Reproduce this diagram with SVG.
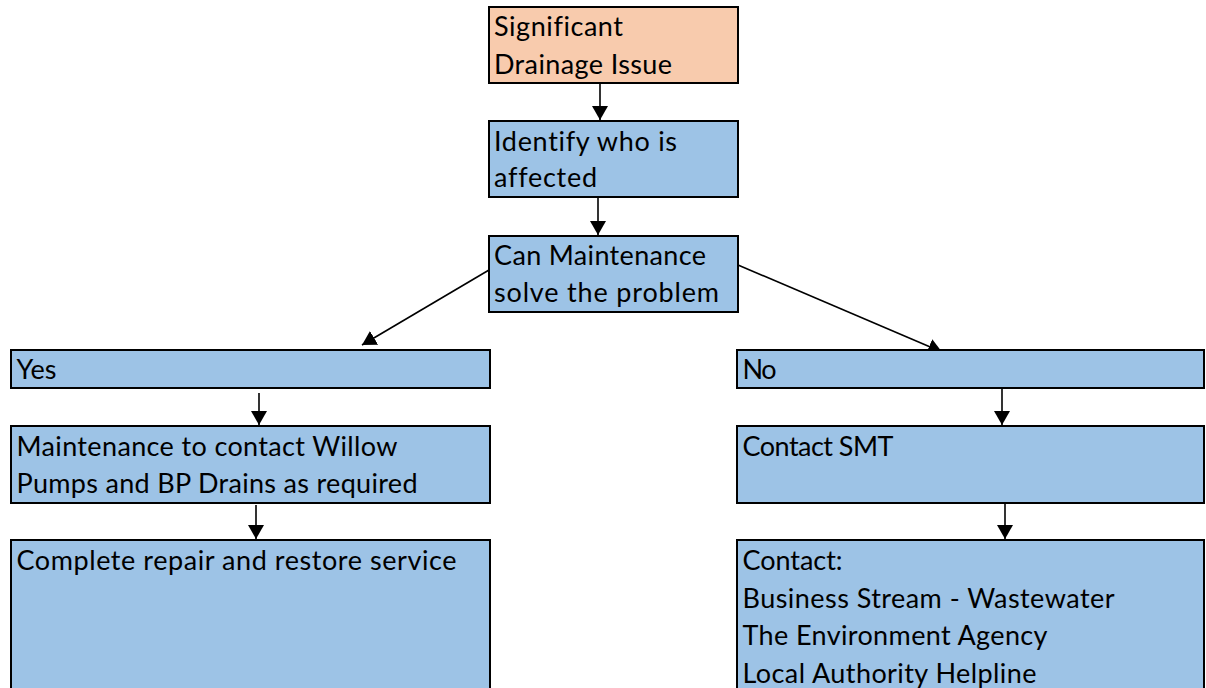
<svg xmlns="http://www.w3.org/2000/svg" width="1206" height="688" viewBox="0 0 1206 688">
<style>
.box{fill:#9DC3E6;stroke:#000;stroke-width:2}
.start{fill:#F8CBAD;stroke:#000;stroke-width:2}
.t{font-family:Lato,"Open Sans","Noto Sans",sans-serif;font-size:27px;fill:#000;font-variant-ligatures:none}
.c{stroke:#000;stroke-width:1.6;fill:none;marker-end:url(#ah)}
</style>
<defs>
<marker id="ah" markerUnits="userSpaceOnUse" markerWidth="16" markerHeight="16" refX="14" refY="8" orient="auto">
<path d="M0,0 L14,8 L0,16 z" fill="#000"/>
</marker>
</defs>
<rect width="1206" height="688" fill="#fff"/>
<g id="connectors">
<line class="c" x1="600" y1="83" x2="600" y2="120"/>
<line class="c" x1="598" y1="197" x2="598" y2="235"/>
<line class="c" x1="489" y1="270" x2="362" y2="345"/>
<line class="c" x1="738" y1="265" x2="942" y2="352"/>
<line class="c" x1="259" y1="393" x2="259" y2="425"/>
<line class="c" x1="256" y1="505" x2="256" y2="539"/>
<line class="c" x1="1002" y1="385" x2="1002" y2="425"/>
<line class="c" x1="1005" y1="503" x2="1005" y2="539"/>
</g>
<g id="n-start">
<rect class="start" x="489" y="7" width="249" height="76"/>
<text class="t" x="494" y="36" textLength="129">Significant</text>
<text class="t" x="494" y="74" textLength="178">Drainage Issue</text>
</g>
<g id="n-identify">
<rect class="box" x="489" y="121" width="249" height="76"/>
<text class="t" x="494" y="151" textLength="183">Identify who is</text>
<text class="t" x="494" y="187" textLength="103">affected</text>
</g>
<g id="n-question">
<rect class="box" x="489" y="236" width="249" height="76"/>
<text class="t" x="494" y="265" textLength="212">Can Maintenance</text>
<text class="t" x="494" y="302" textLength="225">solve the problem</text>
</g>
<g id="n-yes">
<rect class="box" x="11" y="350" width="479" height="38"/>
<text class="t" x="16.5" y="379" textLength="40">Yes</text>
</g>
<g id="n-maint">
<rect class="box" x="11" y="426" width="479" height="77"/>
<text class="t" x="16.5" y="456" textLength="381">Maintenance to contact Willow</text>
<text class="t" x="16.5" y="493" textLength="401">Pumps and BP Drains as required</text>
</g>
<g id="n-complete">
<rect class="box" x="11" y="540" width="479" height="160"/>
<text class="t" x="16.5" y="570" textLength="440">Complete repair and restore service</text>
</g>
<g id="n-no">
<rect class="box" x="737" y="350" width="467" height="38"/>
<text class="t" x="742.5" y="379" textLength="34">No</text>
</g>
<g id="n-smt">
<rect class="box" x="737" y="426" width="467" height="77"/>
<text class="t" x="742.5" y="456" textLength="151">Contact SMT</text>
</g>
<g id="n-contact">
<rect class="box" x="737" y="540" width="467" height="160"/>
<text class="t" x="742.5" y="570" textLength="100">Contact:</text>
<text class="t" x="742.5" y="608" textLength="372">Business Stream - Wastewater</text>
<text class="t" x="742.5" y="645" textLength="305">The Environment Agency</text>
<text class="t" x="742.5" y="683" textLength="294">Local Authority Helpline</text>
</g>
</svg>
